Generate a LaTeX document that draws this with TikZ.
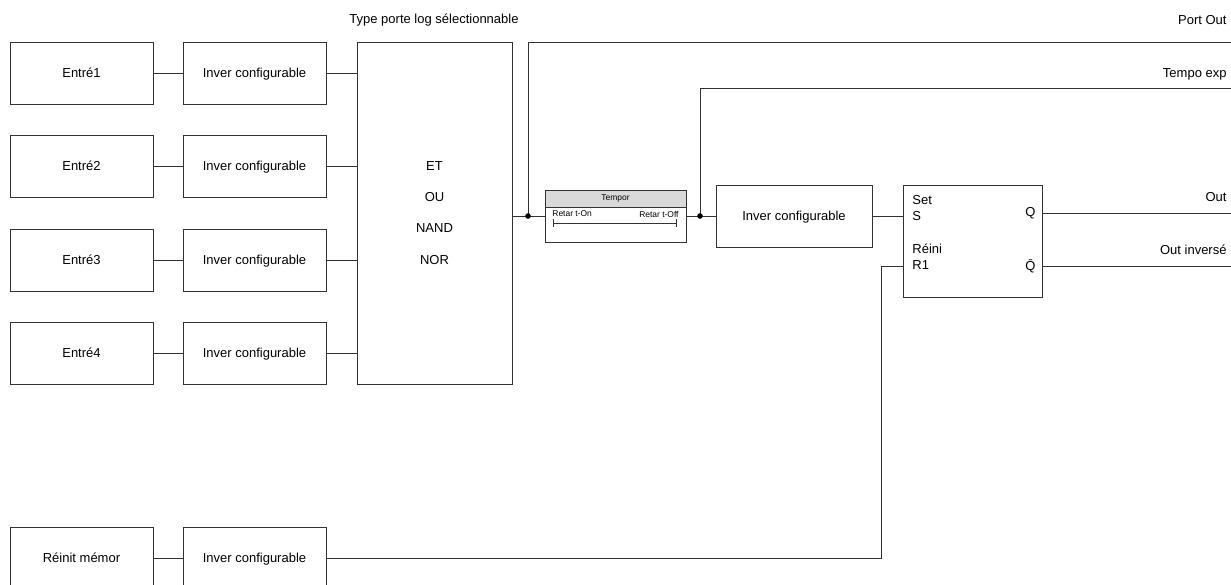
\documentclass[tikz,border=0pt]{standalone}
\usepackage{fontspec}
\setmainfont{Liberation Sans}
\usetikzlibrary{arrows.meta, positioning, calc}

\begin{document}
\begin{tikzpicture}[
    x=0.02cm, y=-0.02cm,
    line width=0.5pt,
    every node/.style={font=\fontsize{7.4}{9}\selectfont},
    bloc/.style={draw=black!80, fill=white, inner sep=0pt, outer sep=0pt,
                 minimum width=#1, minimum height=1.24cm, align=center,
                 text height=5.4pt, text depth=0pt},
    bloc/.default=2.86cm,
    lien/.style={draw=black!80},
    etiq/.style={inner sep=0pt, anchor=east},
    petit/.style={inner sep=0pt, font=\fontsize{4.8}{6}\selectfont}
]
    \useasboundingbox (0,0) rectangle (1231,585);

    % entrees et inverseurs
    \node[bloc] (entre1) at (81.5,73) {Entré1};
    \node[bloc] (entre2) at (81.5,166) {Entré2};
    \node[bloc] (entre3) at (81.5,260) {Entré3};
    \node[bloc] (entre4) at (81.5,353) {Entré4};
    \node[bloc] (reinit) at (81.5,558) {Réinit mémor};

    \node[bloc] (inv1) at (254.5,73) {Inver configurable};
    \node[bloc] (inv2) at (254.5,166) {Inver configurable};
    \node[bloc] (inv3) at (254.5,260) {Inver configurable};
    \node[bloc] (inv4) at (254.5,353) {Inver configurable};
    \node[bloc] (inv5) at (254.5,558) {Inver configurable};

    % porte logique
    \node[bloc, minimum width=3.1cm, minimum height=6.84cm, text height=, text depth=,
          font=\fontsize{7.4}{17.7}\selectfont] (porte) at (434.5,213)
          {ET\\OU\\NAND\\NOR};
    \node[inner sep=0pt] (titreporte) at (434,20) {Type porte log sélectionnable};

    % temporisation
    \node[bloc, minimum width=2.82cm, minimum height=1.04cm] (tempor) at (615.5,216) {};
    \draw[lien, fill=black!15] (tempor.north west) rectangle ($(tempor.north east)+(0,17)$);
    \node[petit] (titretempor) at ($(tempor.north)+(0,8.5)$) {Tempor};
    \node[petit, anchor=west] (ton) at (552,214) {Retar t-On};
    \node[petit, anchor=east] (toff) at (679,214) {Retar t-Off};
    \draw[lien, {Bar[width=4pt]}-{Bar[width=4pt]}] (553,223) -- (677,223);

    \node[bloc=3.12cm] (inv6) at (794,216) {Inver configurable};

    % bascule
    \node[bloc=2.78cm, minimum height=2.24cm] (bascule) at (972.5,241) {};
    \node[inner sep=0pt, anchor=west] (set) at (912,200) {Set};
    \node[inner sep=0pt, anchor=west] (s) at (912,216) {S};
    \node[inner sep=0pt, anchor=west] (reini) at (912,249) {Réini};
    \node[inner sep=0pt, anchor=west] (r1) at (912,265) {R1};
    \node[inner sep=0pt, anchor=east] (q) at (1036,213) {Q};
    \node[inner sep=0pt, anchor=east] (qb) at (1036,266) {\=Q};

    % sorties
    \coordinate (portout) at (1231,42);
    \coordinate (tempoexp) at (1231,88);
    \coordinate (out) at (1231,213);
    \coordinate (outinv) at (1231,266);
    \node[etiq] (lblport) at (1227,20) {Port Out};
    \node[etiq] (lbltempo) at (1227,74) {Tempo exp};
    \node[etiq] (lblout) at (1227,197) {Out};
    \node[etiq] (lbloutinv) at (1227,250) {Out inversé};

    % liaisons
    \foreach \i in {1,...,4} {
        \draw[lien] (entre\i) -- (inv\i);
        \draw[lien] (inv\i) -- (porte.west |- inv\i);
    }
    \draw[lien] (reinit) -- (inv5);

    \coordinate (j1) at (528,216);
    \coordinate (j2) at (700,216);
    \coordinate (coude) at (881,558);
    \draw[lien] (porte.east |- j1) -- (tempor.west);
    \draw[lien] (j1) |- (portout);
    \draw[lien] (tempor) -- (inv6);
    \draw[lien] (j2) |- (tempoexp);
    \draw[lien] (inv6) -- (bascule.west |- inv6);
    \draw[lien] (bascule.east |- out) -- (out);
    \draw[lien] (bascule.east |- outinv) -- (outinv);
    \draw[lien] (inv5) -- (coude) |- (bascule.west |- outinv);
    \fill (j1) circle (1.6pt);
    \fill (j2) circle (1.6pt);
\end{tikzpicture}
\end{document}
